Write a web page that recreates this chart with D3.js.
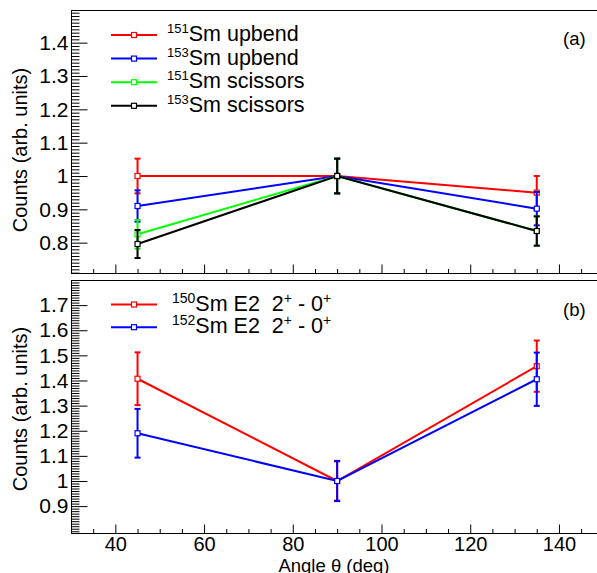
<!DOCTYPE html>
<html><head><meta charset="utf-8">
<script src="https://cdn.jsdelivr.net/npm/d3@7"></script>
<style>body{margin:0;background:#fff}svg{display:block}text{font-family:"Liberation Sans",Arial,sans-serif}</style>
</head><body>
<script>
// ---- data ----
const angles = [45, 90, 135];
const upbend151 = [1.0, 1.0, 0.95];
const upbend151Err = [0.052, 0.052, 0.05];
const upbend153 = [0.91, 1.0, 0.902];
const upbend153Err = [0.047, 0.052, 0.05];
const scissors151 = [0.825, 1.0, 0.835];
const scissors151Err = [0.043, 0.052, 0.044];
const scissors153 = [0.796, 1.0, 0.835];
const scissors153Err = [0.042, 0.052, 0.044];
const e2Sm150 = [1.407, 1.0, 1.457];
const e2Sm150Err = [0.105, 0.078, 0.102];
const e2Sm152 = [1.19, 1.0, 1.405];
const e2Sm152Err = [0.097, 0.08, 0.106];
const xTicks = [40, 60, 80, 100, 120, 140];
const yTicksA = [0.8, 0.9, 1.0, 1.1, 1.2, 1.3, 1.4];
const yTicksB = [0.9, 1.0, 1.1, 1.2, 1.3, 1.4, 1.5, 1.6, 1.7];

const W = 597, H = 573;
const svg = d3.select("body").append("svg").attr("width", W).attr("height", H);

const x = d3.scaleLinear().domain([30, 150]).range([71, 603.3]);
const xMinor = d3.range(35, 151, 5).filter(v => v % 20 !== 0);
const NB = "\u00a0";

const panels = [
  {top: 10, bottom: 273, domain: [0.709, 1.498], ticks: yTicksA, label: "(a)", labelY: 45,
   series: [
     {name: ["151", "Sm upbend"], color: "#ff0000", v: upbend151, e: upbend151Err},
     {name: ["153", "Sm upbend"], color: "#0000ff", v: upbend153, e: upbend153Err},
     {name: ["151", "Sm scissors"], color: "#00ff00", v: scissors151, e: scissors151Err},
     {name: ["153", "Sm scissors"], color: "#000000", v: scissors153, e: scissors153Err}
   ], legX: 111, legTextX: 167, legY0: 35, legDy: 23.6, supSize: 13, xLabels: false, titleY: 150},
  {top: 280, bottom: 533, domain: [0.793, 1.8], ticks: yTicksB, label: "(b)", labelY: 316,
   series: [
     {name: ["150", "Sm E2" + NB + NB + "2", "+", " - 0", "+"], color: "#ff0000", v: e2Sm150, e: e2Sm150Err},
     {name: ["152", "Sm E2" + NB + NB + "2", "+", " - 0", "+"], color: "#0000ff", v: e2Sm152, e: e2Sm152Err}
   ], legX: 111, legTextX: 172, legY0: 304.5, legDy: 22.7, supSize: 14, xLabels: true, titleY: 409}
];

panels.forEach(p => {
  const y = d3.scaleLinear().domain(p.domain).range([p.bottom, p.top]);
  const g = svg.append("g");
  // frame top line
  g.append("line").attr("x1", 71).attr("x2", W).attr("y1", p.top + 0.5).attr("y2", p.top + 0.5)
    .attr("stroke", "#000").attr("stroke-width", 1);

  // y minor ticks
  const yMinor = d3.range(Math.ceil(p.domain[0] * 100), Math.floor(p.domain[1] * 100) + 1)
    .map(v => v / 100).filter(v => !p.ticks.some(t => Math.abs(t - v) < 1e-6));
  const yMinorAxis = d3.axisLeft(y).tickValues(yMinor).tickSize(-8).tickFormat("");
  const ga = g.append("g").attr("transform", "translate(71.5,0)").call(yMinorAxis);
  ga.select(".domain").remove();
  const yMajorAxis = d3.axisLeft(y).tickValues(p.ticks).tickSize(-16).tickPadding(3)
    .tickFormat(d3.format("~g"));
  const gb = g.append("g").attr("transform", "translate(71.5,0)").call(yMajorAxis);
  gb.select(".domain").attr("d", `M0,${p.top}V${p.bottom}`);
  gb.selectAll("text").attr("font-size", 21).attr("font-family", "Liberation Sans, Arial, sans-serif").attr("fill", "#000");
  [ga, gb].forEach(s => s.selectAll("line,path").attr("stroke", "#000"));

  // x axis (bottom of panel)
  const xMinorAxis = d3.axisBottom(x).tickValues(xMinor).tickSize(-4.5).tickFormat("");
  const gx1 = g.append("g").attr("transform", `translate(0,${p.bottom + 0.5})`).call(xMinorAxis);
  gx1.select(".domain").remove();
  const xMajorAxis = d3.axisBottom(x).tickValues(xTicks).tickSize(-9).tickPadding(3)
    .tickFormat(p.xLabels ? d3.format("d") : "");
  const gx2 = g.append("g").attr("transform", `translate(0,${p.bottom + 0.5})`).call(xMajorAxis);
  gx2.select(".domain").attr("d", `M71,0H${W}`);
  gx2.selectAll("text").attr("font-size", 20).attr("font-family", "Liberation Sans, Arial, sans-serif").attr("fill", "#000");
  [gx1, gx2].forEach(s => s.selectAll("line,path").attr("stroke", "#000"));

  // y title
  g.append("text").attr("transform", `translate(27,${p.titleY}) rotate(-90)`)
    .attr("text-anchor", "middle").attr("font-size", 20).text("Counts (arb. units)");

  // panel label
  g.append("text").attr("x", 563).attr("y", p.labelY).attr("font-size", 18.5).text(p.label);

  // series
  p.series.forEach(s => {
    const pts = angles.map((a, i) => ({a, v: s.v[i], e: s.e[i]}));
    const line = d3.line().x(d => x(d.a)).y(d => y(d.v));
    g.append("path").datum(pts).attr("d", line).attr("fill", "none")
      .attr("stroke", s.color).attr("stroke-width", 2);
    const eb = g.append("g").attr("stroke", s.color).attr("stroke-width", 2);
    pts.forEach(d => {
      const cx = x(d.a);
      eb.append("line").attr("x1", cx).attr("x2", cx).attr("y1", y(d.v + d.e)).attr("y2", y(d.v - d.e));
      [d.v + d.e, d.v - d.e].forEach(vv => {
        eb.append("line").attr("x1", cx - 3).attr("x2", cx + 3).attr("y1", y(vv)).attr("y2", y(vv));
      });
    });
    g.append("g").selectAll("rect").data(pts).join("rect")
      .attr("x", d => x(d.a) - 2.5).attr("y", d => y(d.v) - 2.5)
      .attr("width", 5).attr("height", 5).attr("fill", "#fff")
      .attr("stroke", s.color).attr("stroke-width", 1.2);
  });

  // legend
  p.series.forEach((s, i) => {
    const ly = p.legY0 + i * p.legDy;
    g.append("line").attr("x1", p.legX).attr("x2", p.legX + 46).attr("y1", ly).attr("y2", ly)
      .attr("stroke", s.color).attr("stroke-width", 2);
    g.append("rect").attr("x", p.legX + 23 - 2.5).attr("y", ly - 2.5).attr("width", 5).attr("height", 5)
      .attr("fill", "#fff").attr("stroke", s.color).attr("stroke-width", 1.2);
    const t = g.append("text").attr("x", p.legTextX).attr("y", ly + 6).attr("font-size", 21.5);
    s.name.forEach((part, k) => {
      const sup = (k % 2 === 0);
      t.append("tspan").attr("font-size", sup ? p.supSize : 21.5)
        .attr("dy", k === 0 ? -8 : (sup ? -8 : 8)).text(part);
    });
  });
});

// x title
svg.append("text").attr("x", 334).attr("y", 572).attr("text-anchor", "middle")
  .attr("font-size", 18.5).text("Angle θ (deg)");
</script>
</body></html>
